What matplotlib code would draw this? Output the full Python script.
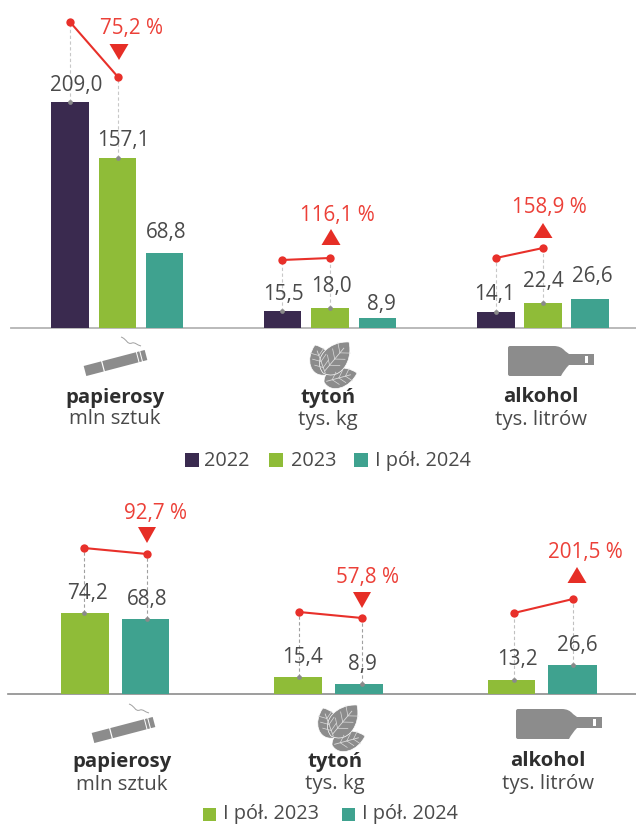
import numpy as np
import matplotlib
matplotlib.use("Agg")
import matplotlib.pyplot as plt
from matplotlib.patches import PathPatch, Polygon, Rectangle
from matplotlib.path import Path

plt.rcParams['font.family'] = ['Open Sans', 'DejaVu Sans']

W, H = 636, 825

categories = ["papierosy", "tytoń", "alkohol"]
units = ["mln sztuk", "tys. kg", "tys. litrów"]

# gorny wykres
top_labels = ["2022", "2023", "I pół. 2024"]
top_2022 = [209.0, 15.5, 14.1]
top_2023 = [157.1, 18.0, 22.4]
top_2024 = [68.8, 8.9, 26.6]
top_change = ["75,2 %", "116,1 %", "158,9 %"]

# dolny wykres
bottom_labels = ["I pół. 2023", "I pół. 2024"]
bottom_2023 = [74.2, 15.4, 13.2]
bottom_2024 = [68.8, 8.9, 26.6]
bottom_change = ["92,7 %", "57,8 %", "201,5 %"]

DARK = "#3a2a4f"
GREEN = "#8fbc38"
TEAL = "#3fa28f"
RED = "#e8302a"
RED_TEXT = "#ec4038"
TXT = "#4a4a4a"
ICON = "#8c8c8c"
FS = 14.9


def fmt(v):
    return f"{v:.1f}".replace(".", ",")


def make_chart_axes(fig, base, scale):
    # osie na cala figure, zero na linii bazowej, x w pikselach
    ax = fig.add_axes([0, 0, 1, 1])
    ax.set_xlim(0, W)
    ax.set_ylim((base - H) / scale, base / scale)
    ax.axis("off")
    ax.patch.set_alpha(0)
    return ax


def draw_series(ax, series, lefts, rights, colors):
    for vals, left, right, color in zip(series, lefts, rights, colors):
        for v, x0, x1 in zip(vals, left, right):
            ax.bar((x0 + x1) / 2, v, width=x1 - x0, color=color, linewidth=0, zorder=2)


def draw_link(ax, base, scale, xs, vals, red_y, dash_color):
    # czerwona linia zmiany i przerywane linie do slupkow
    ys = [(base - p) / scale for p in red_y]
    for x, v, y in zip(xs, vals, ys):
        ax.plot([x, x], [v, y], color=dash_color, lw=0.8, ls=(0, (3, 2.2)), zorder=3)
        ax.plot(x, v, "o", color="#8a8a8a", ms=3.4, mew=0, zorder=4)
    ax.plot(xs, ys, color=RED, lw=1.5, zorder=5)
    ax.plot(xs, ys, "o", color=RED, ms=6, mew=0, zorder=6)


def triangle(ov, cx, y0, y1, half, up):
    if up:
        pts = [(cx - half, y1), (cx + half, y1), (cx, y0)]
    else:
        pts = [(cx - half, y0), (cx + half, y0), (cx, y1)]
    ov.add_patch(Polygon(pts, closed=True, fc="#e62e26", ec="none"))


def cigarette(ov, x0, y0):
    # poczatek (x0, y0) to lewy dolny koniec papierosa
    dx, dy = 61, -16
    L = np.hypot(dx, dy)
    u = np.array([dx, dy]) / L
    n = np.array([-u[1], u[0]])
    p = np.array([x0, y0], dtype=float)
    t = 5.2

    def seg(a, b, color):
        pts = [p + u * a - n * t, p + u * b - n * t, p + u * b + n * t, p + u * a + n * t]
        ov.add_patch(Polygon(pts, closed=True, fc=color, ec="none"))

    seg(0, 18, ICON)
    seg(19.2, 54, ICON)
    seg(55, 57.5, ICON)
    seg(58.5, L, ICON)
    smoke = Path([(x0 + 36, y0 - 34), (x0 + 42, y0 - 32), (x0 + 42, y0 - 26), (x0 + 47, y0 - 28),
                  (x0 + 50, y0 - 29), (x0 + 52, y0 - 26), (x0 + 56, y0 - 25)],
                 [Path.MOVETO] + [Path.CURVE4] * 6)
    ov.add_patch(PathPatch(smoke, fc="none", ec="#a0a0a0", lw=0.7))


def leaf(ov, base, tip, w):
    base = np.array(base, dtype=float)
    tip = np.array(tip, dtype=float)
    d = tip - base
    n = np.array([-d[1], d[0]]) / np.hypot(*d)
    c1 = base + d * 0.1 + n * w
    c2 = base + d * 0.7 + n * w * 0.9
    c3 = base + d * 0.7 - n * w * 0.9
    c4 = base + d * 0.1 - n * w
    verts = [base, c1, c2, tip, c3, c4, base]
    codes = [Path.MOVETO] + [Path.CURVE4] * 6
    ov.add_patch(PathPatch(Path(verts, codes), fc=ICON, ec="white", lw=0.5))
    ov.plot([base[0] + d[0] * .08, base[0] + d[0] * .8], [base[1] + d[1] * .08, base[1] + d[1] * .8],
            color="#dcdcdc", lw=0.6)
    for f in (0.25, 0.45, 0.65):
        m = base + d * f
        for s in (1, -1):
            e = m + d * 0.16 + n * s * w * 0.45
            ov.plot([m[0], e[0]], [m[1], e[1]], color="#dcdcdc", lw=0.5)


def leaves(ov, x0, y0):
    leaf(ov, (x0 + 20, y0 + 33), (x0 + 9, y0 + 3), 16)
    leaf(ov, (x0 + 18, y0 + 40), (x0 + 51, y0 + 31), 14)
    leaf(ov, (x0 + 17, y0 + 31), (x0 + 43, y0), 18)


def bottle(ov, x0, y0):
    verts = [(x0 + 2, y0), (x0 + 46, y0), (x0 + 53, y0), (x0 + 57, y0 + 5), (x0 + 61, y0 + 8),
             (x0 + 86, y0 + 8), (x0 + 86, y0 + 19), (x0 + 61, y0 + 19), (x0 + 56, y0 + 24),
             (x0 + 53, y0 + 30), (x0 + 46, y0 + 30), (x0 + 2, y0 + 30), (x0, y0 + 30),
             (x0, y0 + 28), (x0, y0 + 2), (x0, y0), (x0 + 2, y0), (x0 + 2, y0)]
    codes = [Path.MOVETO, Path.LINETO, Path.CURVE3, Path.CURVE3, Path.LINETO,
             Path.LINETO, Path.LINETO, Path.LINETO, Path.CURVE3,
             Path.CURVE3, Path.LINETO, Path.LINETO, Path.CURVE3,
             Path.CURVE3, Path.LINETO, Path.CURVE3, Path.CURVE3, Path.CLOSEPOLY]
    ov.add_patch(PathPatch(Path(verts, codes), fc=ICON, ec="none"))
    ov.add_patch(Rectangle((x0 + 77, y0 + 10), 2.5, 7, fc="white", ec="none"))


def put(ov, x, y, s, color=TXT, size=FS, weight="normal"):
    ov.text(x, y + 1.5, s, ha="center", va="center", color=color, fontsize=size, fontweight=weight)


def legend(ov, items, y, th, text_y):
    for x0, x1, tx, label, color in items:
        ov.add_patch(Rectangle((x0, y - th / 2), x1 - x0, th, fc=color, ec="none"))
        ov.text(tx, text_y, label, ha="left", va="center", color=TXT, fontsize=14.3)


fig = plt.figure(figsize=(W / 100, H / 100), dpi=100)

# ---- gorny ----
base1, scale1 = 327.5, 1.081
ax1 = make_chart_axes(fig, base1, scale1)
ax1.plot([11, 636], [0, 0], color="#b4b4b4", lw=1.3, zorder=1)
draw_series(ax1, [top_2022, top_2023, top_2024],
            [[51, 264, 477], [99, 311, 524], [146, 359, 571]],
            [[89, 301, 515], [136, 349, 562], [183, 396, 609]],
            [DARK, GREEN, TEAL])
draw_link(ax1, base1, scale1, [70, 118], [top_2022[0], top_2023[0]], [22, 77], "#c8c8c8")
draw_link(ax1, base1, scale1, [282, 330], [top_2022[1], top_2023[1]], [260, 258], "#c8c8c8")
draw_link(ax1, base1, scale1, [496, 543], [top_2022[2], top_2023[2]], [258, 248], "#c8c8c8")

# ---- dolny ----
base2, scale2 = 694, 1.09
ax2 = make_chart_axes(fig, base2, scale2)
ax2.plot([8, 636], [0, 0], color="#8c8c8c", lw=1.2, zorder=1)
draw_series(ax2, [bottom_2023, bottom_2024],
            [[61, 274, 488], [122, 335, 548]],
            [[109, 322, 535], [169, 383, 597]],
            [GREEN, TEAL])
draw_link(ax2, base2, scale2, [84, 147], [bottom_2023[0], bottom_2024[0]], [548, 554], "#a0a0a0")
draw_link(ax2, base2, scale2, [299, 362], [bottom_2023[1], bottom_2024[1]], [612, 618], "#a0a0a0")
draw_link(ax2, base2, scale2, [514, 573], [bottom_2023[2], bottom_2024[2]], [613, 599], "#c0c0c0")

# warstwa opisow w pikselach
ov = fig.add_axes([0, 0, 1, 1])
ov.set_xlim(0, W)
ov.set_ylim(H, 0)
ov.axis("off")
ov.patch.set_alpha(0)

for v, x, y in zip(top_2022, [76, 283, 495], [84, 293, 293]):
    put(ov, x, y, fmt(v))
for v, x, y in zip(top_2023, [123, 331, 543], [139, 285, 280]):
    put(ov, x, y, fmt(v))
for v, x, y in zip(top_2024, [166, 381, 592], [231, 303, 275]):
    put(ov, x, y, fmt(v))
for v, x, y in zip(bottom_2023, [87, 303, 517], [592, 656, 658]):
    put(ov, x, y, fmt(v))
for v, x, y in zip(bottom_2024, [147, 362, 577], [598, 663, 644]):
    put(ov, x, y, fmt(v))

for s, x, y in zip(top_change, [131, 337, 549], [27, 214, 206]):
    put(ov, x, y, s, color=RED_TEXT)
for s, x, y in zip(bottom_change, [156, 368, 585], [512, 576, 551]):
    put(ov, x, y, s, color=RED_TEXT)

triangle(ov, 119, 44, 60, 9.5, False)
triangle(ov, 331, 229, 245, 9.5, True)
triangle(ov, 543, 223, 238, 9.5, True)
triangle(ov, 147, 527, 543, 9, False)
triangle(ov, 362, 592, 608, 9, False)
triangle(ov, 577, 567, 583, 9.5, True)

for name, unit, x, y1, y2 in zip(categories, units, [115, 328, 541], [397, 396, 396], [418, 419, 419]):
    put(ov, x, y1, name, color="#2e2e2e", size=14.6, weight="bold")
    put(ov, x, y2, unit, size=14.7)
for name, unit, x in zip(categories, units, [122, 335, 548]):
    put(ov, x, 760, name, color="#2e2e2e", size=14.6, weight="bold")
    put(ov, x, 783, unit, size=14.7)

cigarette(ov, 85, 371)
cigarette(ov, 93, 738)
leaves(ov, 306, 342)
leaves(ov, 314, 705)
bottle(ov, 508, 346)
bottle(ov, 516, 709)

legend(ov, [(185, 199, 204, top_labels[0], DARK),
            (269, 283, 291, top_labels[1], GREEN),
            (354, 368, 375, top_labels[2], TEAL)], 460, 14, 461)
legend(ov, [(203, 216, 223, bottom_labels[0], GREEN),
            (342, 355, 362, bottom_labels[1], TEAL)], 814, 13, 813.5)

fig.savefig("out.png", dpi=100)
